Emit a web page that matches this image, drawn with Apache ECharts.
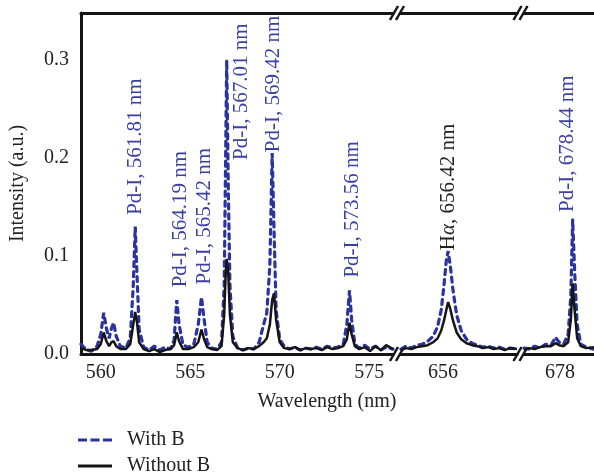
<!DOCTYPE html>
<html>
<head>
<meta charset="utf-8">
<script src="https://cdn.jsdelivr.net/npm/echarts@6.0.0/dist/echarts.min.js"></script>
<style>
html, body { margin: 0; padding: 0; background: #fff; }
#main { width: 594px; height: 475px; }
</style>
</head>
<body>
<div id="main"></div>
<script>
// segment 1 : 558.9 - 576.3 nm
var wl1 = [558.90, 559.20, 559.50, 559.80, 560.00, 560.17, 560.32, 560.47, 560.60, 560.72, 560.87, 561.10, 561.40, 561.65, 561.82, 561.93, 562.03, 562.15, 562.40, 562.70,
	563.00, 563.30, 563.60, 563.90, 564.10, 564.25, 564.38, 564.60, 564.90, 565.20, 565.45, 565.63, 565.78, 565.95, 566.20, 566.50, 566.75, 566.90, 566.98, 567.04,
	567.12, 567.22, 567.38, 567.65, 567.95, 568.25, 568.55, 568.85, 569.10, 569.28, 569.45, 569.58, 569.68, 569.80, 570.00, 570.25, 570.55, 570.85, 571.15, 571.45,
	571.75, 572.05, 572.35, 572.65, 572.95, 573.25, 573.55, 573.75, 573.90, 574.02, 574.20, 574.45, 574.75, 575.05, 575.35, 575.65, 575.95, 576.33];
var withB1 = [0.010, 0.004, 0.003, 0.008, 0.020, 0.042, 0.026, 0.016, 0.026, 0.032, 0.018, 0.008, 0.006, 0.016, 0.070, 0.130, 0.080, 0.025, 0.007, 0.004,
	0.008, 0.004, 0.007, 0.005, 0.014, 0.055, 0.030, 0.009, 0.007, 0.010, 0.030, 0.058, 0.035, 0.012, 0.006, 0.005, 0.012, 0.070, 0.200, 0.300,
	0.180, 0.070, 0.018, 0.006, 0.004, 0.006, 0.005, 0.012, 0.030, 0.042, 0.090, 0.205, 0.130, 0.045, 0.015, 0.008, 0.005, 0.007, 0.004, 0.006,
	0.005, 0.007, 0.005, 0.008, 0.006, 0.007, 0.010, 0.030, 0.065, 0.035, 0.010, 0.006, 0.009, 0.005, 0.008, 0.004, 0.007, 0.005];
var withoutB1 = [0.006, 0.004, 0.004, 0.005, 0.010, 0.022, 0.013, 0.008, 0.012, 0.013, 0.008, 0.005, 0.005, 0.010, 0.030, 0.043, 0.032, 0.012, 0.005, 0.003,
	0.005, 0.002, 0.004, 0.005, 0.009, 0.022, 0.013, 0.005, 0.005, 0.007, 0.012, 0.025, 0.015, 0.007, 0.005, 0.004, 0.008, 0.040, 0.080, 0.097,
	0.085, 0.040, 0.012, 0.006, 0.004, 0.006, 0.005, 0.008, 0.012, 0.016, 0.030, 0.055, 0.062, 0.035, 0.012, 0.006, 0.005, 0.007, 0.004, 0.006,
	0.005, 0.006, 0.004, 0.007, 0.005, 0.006, 0.008, 0.015, 0.032, 0.020, 0.008, 0.005, 0.007, 0.003, 0.008, 0.004, 0.009, 0.005];

// segment 2 : around H-alpha
var wl2 = [653.68, 653.95, 654.25, 654.55, 654.85, 655.15, 655.45, 655.70, 655.90, 656.05, 656.18, 656.28, 656.40, 656.55, 656.75, 657.00, 657.30, 657.60, 657.90, 658.20,
	658.50, 658.80, 659.10, 659.40, 659.70, 660.08];
var withB2 = [0.005, 0.008, 0.006, 0.009, 0.010, 0.013, 0.018, 0.028, 0.045, 0.070, 0.095, 0.105, 0.090, 0.065, 0.040, 0.024, 0.015, 0.011, 0.009, 0.007,
	0.008, 0.006, 0.007, 0.005, 0.006, 0.005];
var withoutB2 = [0.004, 0.006, 0.005, 0.007, 0.008, 0.009, 0.012, 0.016, 0.024, 0.034, 0.045, 0.053, 0.046, 0.034, 0.022, 0.015, 0.011, 0.009, 0.008, 0.006,
	0.007, 0.005, 0.006, 0.004, 0.006, 0.005];

// segment 3 : around 678 nm
var wl3 = [676.01, 676.30, 676.60, 676.90, 677.20, 677.50, 677.75, 677.95, 678.20, 678.45, 678.60, 678.70, 678.82, 678.95, 679.15, 679.45, 679.88];
var withB3 = [0.006, 0.005, 0.008, 0.006, 0.010, 0.009, 0.017, 0.012, 0.010, 0.020, 0.060, 0.137, 0.080, 0.030, 0.010, 0.007, 0.005];
var withoutB3 = [0.004, 0.006, 0.005, 0.007, 0.008, 0.008, 0.011, 0.009, 0.008, 0.012, 0.035, 0.072, 0.042, 0.016, 0.008, 0.006, 0.007];

var xRanges = [[558.9, 576.33], [653.68, 660.08], [676.01, 679.88]];
var xTicks = [[560, 565, 570, 575], [656], [678]];
var yTicks = [0, 0.1, 0.2, 0.3];
var yMax = 0.348;

// peak annotations
var peakText = ['Pd-I, 561.81 nm', 'Pd-I, 564.19 nm', 'Pd-I, 565.42 nm', 'Pd-I, 567.01 nm', 'Pd-I, 569.42 nm', 'Pd-I, 573.56 nm', '{n|H}{i|α}{n|, 656.42 nm}', 'Pd-I, 678.44 nm'];
var peakX = [561.93, 564.47, 565.79, 567.89, 569.65, 574.07, 656.28, 678.44];
var peakY = [0.142, 0.068, 0.071, 0.198, 0.206, 0.078, 0.106, 0.145];
var peakGrid = [0, 0, 0, 0, 0, 0, 1, 2];
var peakColor = ['#3a3fa2', '#3a3fa2', '#3a3fa2', '#3a3fa2', '#3a3fa2', '#3a3fa2', '#222', '#3a3fa2'];

var blue = '#2b33a0';
var ink = '#151515';
var font = '"Liberation Serif", "DejaVu Serif", serif';

var grids = [
	{left: 77, top: 13, width: 316, height: 341},
	{left: 401, top: 13, width: 116, height: 341},
	{left: 524, top: 13, width: 70, height: 341}
];

function pairs(xs, ys) {
	var out = [];
	for (var i = 0; i < xs.length; i++) {
		out.push([xs[i], ys[i]]);
	}
	return out;
}

var seg = [[wl1, withB1, withoutB1], [wl2, withB2, withoutB2], [wl3, withB3, withoutB3]];

var xAxes = [], yAxes = [], series = [];
for (var g = 0; g < 3; g++) {
	// bottom axis
	xAxes.push({
		type: 'value', gridIndex: g, position: 'bottom',
		min: xRanges[g][0], max: xRanges[g][1],
		axisLine: {show: true, onZero: false, lineStyle: {color: ink, width: 3}},
		axisTick: {show: false},
		splitLine: {show: false},
		axisLabel: {customValues: xTicks[g], color: '#222', fontSize: 20, fontFamily: font, margin: 9}
	});
	// top border
	xAxes.push({
		type: 'value', gridIndex: g, position: 'top',
		min: xRanges[g][0], max: xRanges[g][1],
		axisLine: {show: true, onZero: false, lineStyle: {color: ink, width: 3}},
		axisTick: {show: false},
		splitLine: {show: false},
		axisLabel: {show: false}
	});
	yAxes.push({
		type: 'value', gridIndex: g, min: 0, max: yMax,
		show: g === 0,
		name: g === 0 ? 'Intensity (a.u.)' : '',
		nameLocation: 'middle', nameGap: 53,
		nameTextStyle: {color: '#222', fontSize: 20, fontFamily: font},
		axisLine: {show: true, lineStyle: {color: ink, width: 3}},
		axisTick: {show: false},
		splitLine: {show: false},
		axisLabel: {
			customValues: yTicks, color: '#222', fontSize: 20, fontFamily: font, margin: 12,
			formatter: function(v) { return v.toFixed(1); }
		}
	});
	series.push({
		name: 'With B', type: 'line', xAxisIndex: g * 2, yAxisIndex: g,
		data: pairs(seg[g][0], seg[g][1]),
		symbol: 'none', showSymbol: false,
		lineStyle: {color: blue, width: 3.2, type: [5, 5], cap: 'round'},
		itemStyle: {color: blue},
		animation: false
	});
	series.push({
		name: 'Without B', type: 'line', xAxisIndex: g * 2, yAxisIndex: g,
		data: pairs(seg[g][0], seg[g][2]),
		symbol: 'none', showSymbol: false,
		lineStyle: {color: ink, width: 2.5},
		itemStyle: {color: ink},
		animation: false
	});
}

// one legend per row so the two rows stay stacked at the bottom
var legendBase = {
	left: 73, itemWidth: 34, itemHeight: 3,
	textStyle: {color: '#222', fontSize: 20, fontFamily: font, padding: [0, 0, 0, 10]}
};
var legends = [
	Object.assign({}, legendBase, {top: 425, data: [{name: 'With B', icon: 'path://M0,0h9v3h-9z M12.5,0h9v3h-9z M25,0h9v3h-9z'}]}),
	Object.assign({}, legendBase, {top: 451, data: [{name: 'Without B', icon: 'path://M0,0h34v3h-34z'}]})
];

var myChart = echarts.init(document.getElementById('main'));
myChart.setOption({
	animation: false,
	grid: grids,
	xAxis: xAxes,
	yAxis: yAxes,
	legend: legends,
	series: series
});

// break marks, axis title and peak labels
var graphics = [];
var breaksX = [(grids[0].left + grids[0].width + grids[1].left) / 2, (grids[1].left + grids[1].width + grids[2].left) / 2];
var edgesY = [13, 354];
breaksX.forEach(function(bx) {
	edgesY.forEach(function(by) {
		[-3, 3].forEach(function(d) {
			graphics.push({
				type: 'line',
				shape: {x1: bx + d - 4, y1: by + 7, x2: bx + d + 4, y2: by - 7},
				style: {stroke: ink, lineWidth: 2.5}
			});
		});
	});
});
graphics.push({
	type: 'text', x: 327, y: 402,
	style: {text: 'Wavelength (nm)', fill: '#222', font: '20px ' + font, textAlign: 'center', textVerticalAlign: 'middle'}
});
for (var k = 0; k < peakText.length; k++) {
	var p = myChart.convertToPixel({gridIndex: peakGrid[k]}, [peakX[k], peakY[k]]);
	graphics.push({
		type: 'text', x: p[0], y: p[1], rotation: Math.PI / 2,
		style: {
			text: peakText[k], fill: peakColor[k], font: '21px ' + font,
			textAlign: 'left', textVerticalAlign: 'middle',
			rich: {
				n: {fill: peakColor[k], fontSize: 21, fontFamily: font},
				i: {fill: peakColor[k], fontSize: 21, fontFamily: font, fontStyle: 'italic'}
			}
		}
	});
}
myChart.setOption({graphic: graphics});
</script>
</body>
</html>
